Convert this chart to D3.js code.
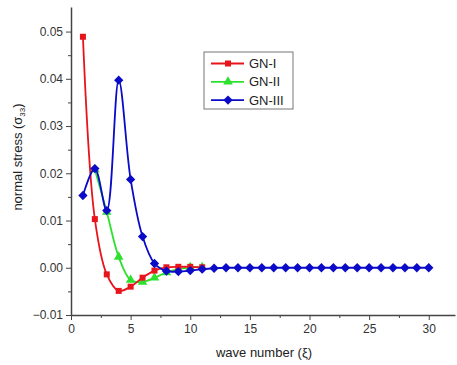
<!DOCTYPE html>
<html lang="en">
<head>
	<meta charset="UTF-8">
	<title>normal stress vs wave number</title>
	<script src="https://d3js.org/d3.v7.min.js"></script>
	<style>
		body { margin: 0; background: #fff; }
		svg { font-family: Arial, "Liberation Sans", sans-serif; }
		.tick text { fill: #333; font-size: 12px; }
		.domain, .tick line { stroke: #444; }
	</style>
</head>
<body>
<div id="chart"></div>
<script>
	// wave number 1..30
	const xsGN1 = [1,2,3,4,5,6,7,8,9,10,11]
	const GN1 = [0.0489,0.0103,-0.0014,-0.0049,-0.0040,-0.0021,-0.0006,0.0001,0.0002,0.0002,0.0001]

	const xsGN2 = [2,3,4,5,6,7,8,9,10,11]
	const GN2 = [0.0208,0.0118,0.0023,-0.0026,-0.0030,-0.0021,-0.0010,-0.0003,0.0001,0.0001]

	const xsGN3 = d3.range(1, 31)
	const GN3 = [0.0153,0.0210,0.0121,0.0397,0.0187,0.0066,0.0009,-0.0007,-0.0008,-0.0006,-0.0003,-0.0001,
		0,0,0,0,0,0,0,0,0,0,0,0,0,0,0,0,0,0]

	const xTicks = [0,5,10,15,20,25,30]
	const yTicks = [-0.01,0.00,0.01,0.02,0.03,0.04,0.05]

	const W = 457, H = 365
	const mLeft = 71, mRight = 455, mTop = 7, mBottom = 315

	const svg = d3.select('#chart').append('svg').attr('width', W).attr('height', H)

	const x = d3.scaleLinear().domain([0, 32.2]).range([mLeft, mRight])
	const y = d3.scaleLinear().domain([-0.01, 0.0552]).range([mBottom, mTop])

	// minor ticks first, major on top
	svg.append('g').attr('transform', `translate(0,${mBottom})`)
		.call(d3.axisBottom(x).tickValues(d3.range(2.5, 32, 5)).tickSize(3).tickFormat(''))
		.select('.domain').remove()
	svg.append('g').attr('transform', `translate(${mLeft},0)`)
		.call(d3.axisLeft(y).tickValues([-0.005,0.005,0.015,0.025,0.035,0.045]).tickSize(3).tickFormat(''))
		.select('.domain').remove()

	svg.append('g').attr('transform', `translate(0,${mBottom})`)
		.call(d3.axisBottom(x).tickValues(xTicks).tickSize(5).tickSizeOuter(0).tickPadding(4).tickFormat(d3.format('d')))
	svg.append('g').attr('transform', `translate(${mLeft},0)`)
		.call(d3.axisLeft(y).tickValues(yTicks).tickSize(5).tickSizeOuter(0).tickPadding(3).tickFormat(d3.format('.2f')))

	svg.selectAll('.domain').attr('stroke-width', 1.5)

	const series = [
		{name: 'GN-II', xs: xsGN2, ys: GN2, color: '#2ee02e', sym: d3.symbolTriangle, size: 40},
		{name: 'GN-I', xs: xsGN1, ys: GN1, color: '#e8141c', sym: d3.symbolSquare, size: 36},
		{name: 'GN-III', xs: xsGN3, ys: GN3, color: '#0a0ac8', sym: d3.symbolDiamond2, size: 55}
	]

	const line = d3.line().x(d => x(d[0])).y(d => y(d[1])).curve(d3.curveCatmullRom.alpha(0.5))

	for (const s of series) {
		const pts = s.xs.map((v, i) => [v, s.ys[i]])
		svg.append('path').datum(pts).attr('d', line)
			.attr('fill', 'none').attr('stroke', s.color).attr('stroke-width', 1.8)
		svg.append('g').selectAll('path').data(pts).join('path')
			.attr('transform', d => `translate(${x(d[0])},${y(d[1])})`)
			.attr('d', d3.symbol().type(s.sym).size(s.size))
			.attr('fill', s.color)
	}

	// legend
	const lg = svg.append('g')
	lg.append('rect').attr('x', 204).attr('y', 52).attr('width', 89).attr('height', 57)
		.attr('fill', '#fff').attr('stroke', '#777').attr('stroke-width', 1)
	const legendItems = [series[1], series[0], series[2]]
	legendItems.forEach((s, i) => {
		const cy = 63.5 + i * 18.3
		lg.append('line').attr('x1', 211).attr('x2', 244).attr('y1', cy).attr('y2', cy)
			.attr('stroke', s.color).attr('stroke-width', 1.8)
		lg.append('path').attr('transform', `translate(228,${cy})`)
			.attr('d', d3.symbol().type(s.sym).size(s.size)).attr('fill', s.color)
		lg.append('text').attr('x', 249).attr('y', cy + 4.5).text(s.name)
			.attr('font-size', 13).attr('fill', '#222')
	})

	// axis titles
	svg.append('text').attr('x', 264).attr('y', 357).attr('text-anchor', 'middle')
		.attr('font-size', 13).attr('fill', '#222').text('wave number (ξ)')

	const yl = svg.append('text').attr('transform', 'translate(22,157) rotate(-90)')
		.attr('text-anchor', 'middle').attr('font-size', 13).attr('fill', '#222')
	yl.append('tspan').text('normal stress (σ')
	yl.append('tspan').attr('font-size', 8).attr('dy', 3).text('33')
	yl.append('tspan').attr('dy', -3).text(')')
</script>
</body>
</html>
